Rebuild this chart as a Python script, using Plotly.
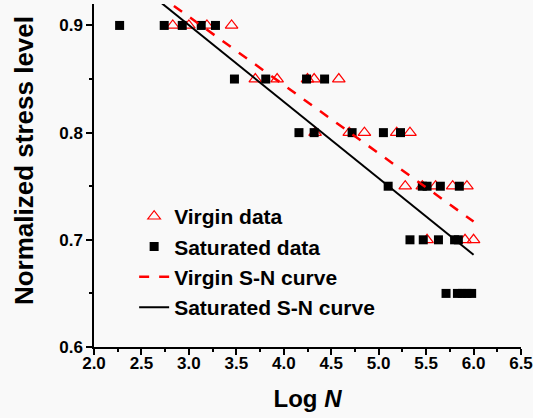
import plotly.graph_objects as go

# Data
virgin_x = [2.83, 3.00, 3.19, 3.45,
            3.70, 3.93, 4.25, 4.32, 4.58,
            4.33, 4.69, 4.85, 5.19, 5.33,
            5.28, 5.46, 5.60, 5.78, 5.93,
            5.51, 5.91, 6.00]
virgin_y = [0.90, 0.90, 0.90, 0.90,
            0.85, 0.85, 0.85, 0.85, 0.85,
            0.80, 0.80, 0.80, 0.80, 0.80,
            0.75, 0.75, 0.75, 0.75, 0.75,
            0.70, 0.70, 0.70]

sat_x = [2.27, 2.74, 2.93, 3.13, 3.28,
         3.48, 3.81, 4.24, 4.43,
         4.16, 4.32, 4.72, 5.05, 5.23,
         5.10, 5.46, 5.51, 5.65, 5.85,
         5.33, 5.47, 5.63, 5.80, 5.84,
         5.71, 5.83, 5.88, 5.93, 5.98]
sat_y = [0.90, 0.90, 0.90, 0.90, 0.90,
         0.85, 0.85, 0.85, 0.85,
         0.80, 0.80, 0.80, 0.80, 0.80,
         0.75, 0.75, 0.75, 0.75, 0.75,
         0.70, 0.70, 0.70, 0.70, 0.70,
         0.65, 0.65, 0.65, 0.65, 0.65]

virgin_curve_x = [2.5, 6.0]
virgin_curve_y = [0.940, 0.717]
sat_curve_x = [2.5, 6.0]
sat_curve_y = [0.936, 0.686]

x_ticks = [2.0, 2.5, 3.0, 3.5, 4.0, 4.5, 5.0, 5.5, 6.0, 6.5]
y_ticks = [0.6, 0.7, 0.8, 0.9]

series_names = ["Virgin data", "Saturated data", "Virgin S-N curve", "Saturated S-N curve"]
x_title = "Log <i>N</i>"
y_title = "Normalized stress level"

FONT = "Arial"
BG = "#f9f9f9"

fig = go.Figure()
fig.add_trace(go.Scatter(
    x=virgin_x, y=virgin_y, mode="markers", name=f"<b>{series_names[0]}</b>",
    marker=dict(symbol="triangle-up-open", size=11, color="#ff0000",
                line=dict(width=1.2, color="#ff0000")),
))
fig.add_trace(go.Scatter(
    x=sat_x, y=sat_y, mode="markers", name=f"<b>{series_names[1]}</b>",
    marker=dict(symbol="square", size=9, color="#000000"),
))
fig.add_trace(go.Scatter(
    x=virgin_curve_x, y=virgin_curve_y, mode="lines", name=f"<b>{series_names[2]}</b>",
    line=dict(color="#ff0000", width=2.5, dash="10px,10px"),
))
fig.add_trace(go.Scatter(
    x=sat_curve_x, y=sat_curve_y, mode="lines", name=f"<b>{series_names[3]}</b>",
    line=dict(color="#000000", width=2),
))

fig.add_annotation(
    text=f"<b>{y_title}</b>", textangle=-90, showarrow=False,
    xref="paper", yref="paper", x=-0.164, y=0.545, xanchor="center", yanchor="middle",
    font=dict(family=FONT, size=26, color="#000000"),
)

fig.update_layout(
    width=533, height=418,
    margin=dict(l=94, r=12, t=4, b=71),
    paper_bgcolor=BG, plot_bgcolor=BG,
    font=dict(family=FONT, color="#000000"),
    showlegend=True,
    legend=dict(
        x=0.094, y=0.44, xanchor="left", yanchor="top",
        bgcolor="rgba(0,0,0,0)",
        font=dict(family=FONT, size=21, color="#000000"),
        itemwidth=30, tracegroupgap=0,
    ),
    xaxis=dict(
        range=[2.0, 6.5], tickvals=x_ticks,
        ticktext=[f"<b>{v:.1f}</b>" for v in x_ticks],
        showgrid=False, zeroline=False, automargin=False,
        showline=True, linecolor="#000000", linewidth=1.5,
        ticks="outside", ticklen=6, tickwidth=1.5, tickcolor="#000000",
        ticklabelstandoff=-6,
        minor=dict(dtick=0.25, ticks="outside", ticklen=3, tickwidth=1.5, tickcolor="#000000"),
        tickfont=dict(family=FONT, size=17, color="#000000"),
        title=dict(text=f"<b>{x_title}</b>", standoff=18,
                   font=dict(family=FONT, size=24, color="#000000")),
    ),
    yaxis=dict(
        range=[0.6, 0.92], tickvals=y_ticks,
        ticktext=[f"<b>{v:.1f}</b>" for v in y_ticks],
        showgrid=False, zeroline=False, automargin=False,
        showline=True, linecolor="#000000", linewidth=1.5,
        ticks="outside", ticklen=6, tickwidth=1.5, tickcolor="#000000",
        minor=dict(dtick=0.05, ticks="outside", ticklen=3, tickwidth=1.5, tickcolor="#000000"),
        tickfont=dict(family=FONT, size=17, color="#000000"),
    ),
)

fig.write_html("out.html", config={"displayModeBar": False},
               post_script="document.body.style.margin='0';document.body.style.padding='0';")
